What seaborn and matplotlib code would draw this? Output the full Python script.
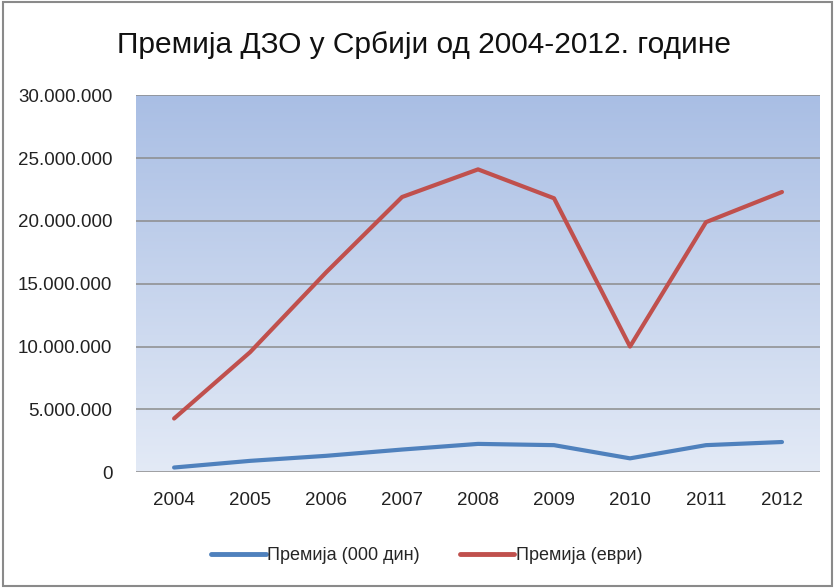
import numpy as np
import pandas as pd
import matplotlib
matplotlib.use("Agg")
import matplotlib.pyplot as plt
from matplotlib.colors import LinearSegmentedColormap
from matplotlib.ticker import FuncFormatter
import seaborn as sns

# podaci procitani sa grafika
godine = ["2004", "2005", "2006", "2007", "2008", "2009", "2010", "2011", "2012"]
premija_din = [370000, 900000, 1300000, 1800000, 2250000, 2150000, 1100000, 2150000, 2400000]
premija_evri = [4270000, 9550000, 15900000, 21900000, 24100000, 21800000, 10000000, 19900000, 22300000]
serije = ["Премија (000 дин)", "Премија (еври)"]
boje = ["#4F81BD", "#C0504D"]

sns.set_theme(style="white")
plt.rcParams["font.family"] = ["Liberation Sans", "DejaVu Sans"]

df = pd.DataFrame({
    "godina": godine * 2,
    "vrednost": premija_din + premija_evri,
    "serija": [serije[0]] * len(godine) + [serije[1]] * len(godine),
})

fig = plt.figure(figsize=(8.35, 5.88), dpi=100)
ax = fig.add_axes([0.163, 0.197, 0.819, 0.641])

# gradijent u pozadini
cmap = LinearSegmentedColormap.from_list("bg", ["#E3EAF6", "#A9BEE4"])
grad = np.linspace(0, 1, 256).reshape(-1, 1)
ax.imshow(grad, cmap=cmap, origin="lower", aspect="auto",
          extent=[-0.5, 8.5, 0, 30000000], zorder=0)

sns.lineplot(data=df, x="godina", y="vrednost", hue="serija", palette=boje,
             linewidth=3, ax=ax, zorder=3, sort=False)

ax.set_xlim(-0.5, 8.5)
ax.set_ylim(0, 30000000)
ax.set_yticks(np.arange(0, 30000001, 5000000))
ax.yaxis.set_major_formatter(FuncFormatter(lambda v, p: f"{int(v):,}".replace(",", ".")))
ax.grid(axis="y", color="#8C8C8C", linewidth=1.1, zorder=1)
ax.set_axisbelow(False)
for s in ax.spines.values():
    s.set_visible(False)
ax.set_xlabel("")
ax.set_ylabel("")
ax.tick_params(axis="both", length=0, labelsize=13.5, colors="#222222")
ax.tick_params(axis="x", pad=14)
ax.tick_params(axis="y", pad=17)

fig.text(0.508, 0.923, "Премија ДЗО у Србији од 2004-2012. године", fontsize=21.5,
         ha="center", va="center", color="#111111")

leg = ax.legend(loc="upper center", bbox_to_anchor=(0.425, -0.155), ncol=2,
                frameon=False, fontsize=13, handlelength=3.0,
                handletextpad=0.1, columnspacing=2.2)
for l in leg.get_lines():
    l.set_linewidth(3.5)

fig.patches.append(plt.Rectangle((0.003, 0.003), 0.994, 0.994, transform=fig.transFigure,
                                 fill=False, edgecolor="#8A8A8A", linewidth=1.5))

fig.savefig("out.png", dpi=100)
